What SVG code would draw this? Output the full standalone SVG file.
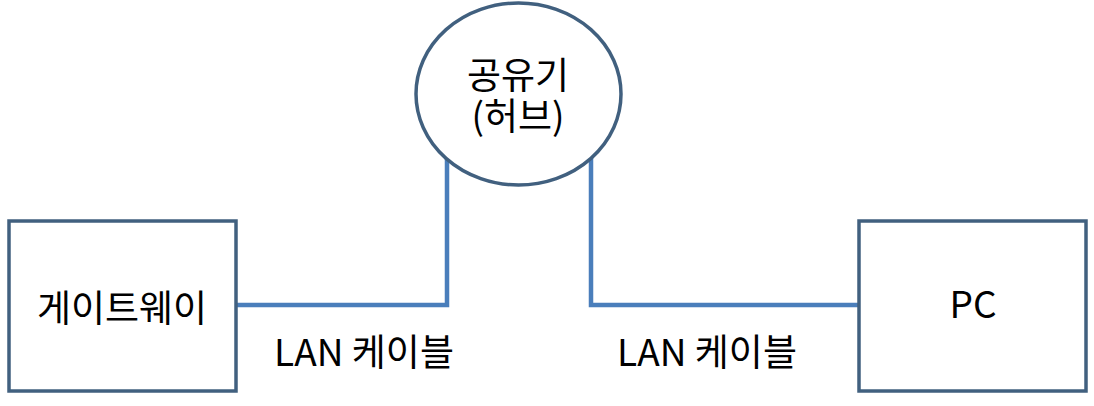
<svg xmlns="http://www.w3.org/2000/svg" width="1094" height="406" viewBox="0 0 1094 406">
<style>
.node{fill:#ffffff;stroke:#41607f;stroke-width:3.5}
.wire{fill:none;stroke:#4a7ebb;stroke-width:4.5}
.t{font-family:"Noto Sans CJK KR","Noto Sans",sans-serif;font-size:37px;fill:#000;text-anchor:middle}
</style>
<rect width="1094" height="406" fill="#ffffff"/>
<g id="connectors">
<polyline class="wire" points="236,305 447,305 447,158"/>
<polyline class="wire" points="591,158 591,305 859,305"/>
</g>
<g id="gateway">
<rect class="node" x="9" y="221" width="227" height="170"/>
<text class="t" x="122" y="322">게이트웨이</text>
</g>
<g id="router">
<ellipse class="node" cx="518.5" cy="94" rx="102.5" ry="91"/>
<text class="t" x="518" y="89">공유기</text>
<text class="t" x="518" y="130">(허브)</text>
</g>
<g id="pc">
<rect class="node" x="859" y="221" width="227" height="170"/>
<text class="t" x="973" y="318">PC</text>
</g>
<g id="labels">
<text class="t" x="364" y="366">LAN 케이블</text>
<text class="t" x="707" y="366">LAN 케이블</text>
</g>
</svg>
